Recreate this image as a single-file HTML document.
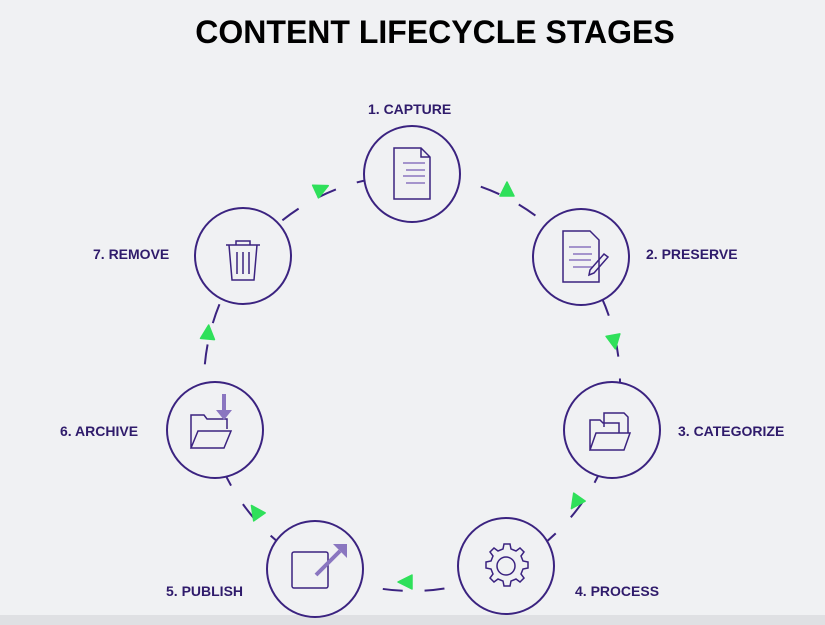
<!DOCTYPE html>
<html><head><style>
body{margin:0;width:825px;height:625px;background:#f0f1f3;overflow:hidden;font-family:"Liberation Sans",sans-serif}
.t{position:absolute;font-weight:bold;color:#2f1b6b;font-size:14px;white-space:nowrap}
</style></head><body>
<div style="position:absolute;left:0;top:615px;width:825px;height:10px;background:#dfe0e3"></div>
<div class="t" style="left:0;width:870px;text-align:center;top:14px;font-size:32px;color:#000;letter-spacing:0px">CONTENT LIFECYCLE STAGES</div>
<div class="t" style="left:368px;top:101px">1. CAPTURE</div>
<div class="t" style="left:646px;top:246px">2. PRESERVE</div>
<div class="t" style="left:678px;top:423px">3. CATEGORIZE</div>
<div class="t" style="left:575px;top:583px">4. PROCESS</div>
<div class="t" style="left:166px;top:583px">5. PUBLISH</div>
<div class="t" style="left:60px;top:423px">6. ARCHIVE</div>
<div class="t" style="left:93px;top:246px">7. REMOVE</div>
<svg width="825" height="625" style="position:absolute;left:0;top:0">
<circle cx="412" cy="383" r="208" fill="none" stroke="#3b2380" stroke-width="2" stroke-dasharray="20 22"/>
<g fill="#f0f1f3" stroke="#3b2380" stroke-width="2">
<circle cx="412" cy="174" r="48"/><circle cx="581" cy="257" r="48"/><circle cx="612" cy="430" r="48"/>
<circle cx="506" cy="566" r="48"/><circle cx="315" cy="569" r="48"/><circle cx="215" cy="430" r="48"/><circle cx="243" cy="256" r="48"/>
</g>
<g fill="#2fe05a" stroke="#2fe05a" stroke-width="1.5" stroke-linejoin="round">
<polygon points="-6,-7 8,0 -6,7" transform="translate(321,189) rotate(-25)"/>
<polygon points="-6,-7 8,0 -6,7" transform="translate(507,190) rotate(-90)"/>
<polygon points="-6,-7 8,0 -6,7" transform="translate(614,341) rotate(80)"/>
<polygon points="-6,-7 8,0 -6,7" transform="translate(576,502) rotate(125)"/>
<polygon points="-6,-7 8,0 -6,7" transform="translate(406,582) rotate(180)"/>
<polygon points="-6,-7 8,0 -6,7" transform="translate(256,512) rotate(-125)"/>
<polygon points="-6,-7 8,0 -6,7" transform="translate(208,333) rotate(-85)"/>
</g>
<g fill="none" stroke="#3b2380" stroke-width="1.5">
<path d="M394,148 h27 l9,9 v42 h-36 z M421,148 v9 h9"/>
<path d="M403,163h22M406,170h19M403,176h22M406,183h19" stroke="#8a76c0"/>
<path d="M563,231 h27 l9,9 v42 h-36 z"/>
<path d="M569,247h22M573,254h19M569,260h22M573,267h19" stroke="#8a76c0"/>
<path d="M590,270 l14,-16 l4,3 l-14,16 l-5,2 z"/>
<path d="M226,245 h34 M236,245 v-4 h14 v4 M229,245 l3,35 h22 l3,-35 M237,252v22M243,252v22M249,252v22"/>
<path d="M191,448 v-33 h13 l3,4 h20 v10 M191,448 l7,-17 h33 l-7,17 z"/>
<path d="M224,394 v18" stroke="#8a76c0" stroke-width="4"/><path d="M216,410 l8,10 l8,-10z" fill="#8a76c0" stroke="none"/>
<rect x="292" y="552" width="36" height="36" rx="2"/>
<path d="M316,575 l24,-24" stroke="#8a76c0" stroke-width="4"/><path d="M333,544 h14 v14z" fill="#8a76c0" stroke="none"/>
<path d="M590,450 v-30 h10 l3,3 h16 v10 M590,450 l6,-17 h34 l-6,17z M604,427 v-14 h20 l4,4 v16"/>
<circle cx="506" cy="566" r="9"/>
<path d="M506,544 l4,0 1,5 5,2 4,-3 4,4 -3,4 2,5 5,1 0,6 -5,1 -2,5 3,4 -4,4 -4,-3 -5,2 -1,5 -6,0 -1,-5 -5,-2 -4,3 -4,-4 3,-4 -2,-5 -5,-1 0,-6 5,-1 2,-5 -3,-4 4,-4 4,3 5,-2 1,-5z"/>
</g>
</svg>
</body></html>
